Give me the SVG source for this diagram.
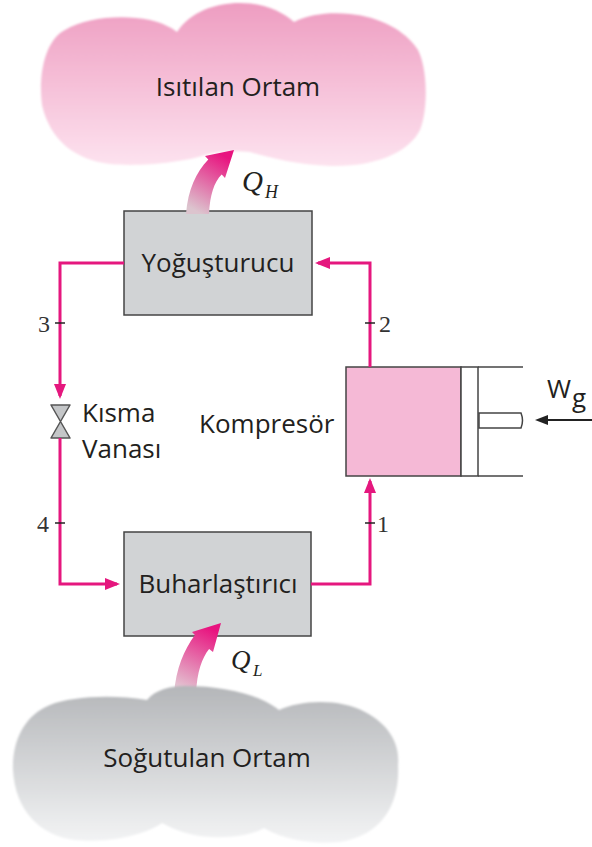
<svg xmlns="http://www.w3.org/2000/svg" width="592" height="847" viewBox="0 0 592 847">
  <style>
    .lbl { font-family: "Open Sans", "Noto Sans", "Liberation Sans", sans-serif; font-size: 26px; fill: #231f20; }
    .num { font-family: "Liberation Serif", "DejaVu Serif", serif; font-size: 24px; fill: #333; }
    .q { font-family: "Liberation Serif", "DejaVu Serif", serif; font-style: italic; fill: #231f20; }
    .box { fill: #d1d3d5; stroke: #444; stroke-width: 1.5; }
    .pipe { fill: none; stroke: #e5177e; stroke-width: 3; }
    .tick { stroke: #222; stroke-width: 1.5; }
    .mech { stroke: #444; stroke-width: 1.5; }
  </style>
  <defs>
    <linearGradient id="hotGrad" x1="0" y1="0" x2="0" y2="1">
      <stop offset="0" stop-color="#ee9dc1"/>
      <stop offset="1" stop-color="#fde3ef"/>
    </linearGradient>
    <linearGradient id="coldGrad" x1="0" y1="0" x2="0" y2="1">
      <stop offset="0" stop-color="#b4b6b9"/>
      <stop offset="1" stop-color="#f3f4f5"/>
    </linearGradient>
    <linearGradient id="qhGrad" gradientUnits="userSpaceOnUse" x1="198" y1="212" x2="228" y2="158">
      <stop offset="0" stop-color="#dcc4ce"/>
      <stop offset="1" stop-color="#e8137f"/>
    </linearGradient>
    <linearGradient id="qlGrad" gradientUnits="userSpaceOnUse" x1="185" y1="690" x2="214" y2="630">
      <stop offset="0" stop-color="#e3c3d1"/>
      <stop offset="1" stop-color="#e8137f"/>
    </linearGradient>
    <filter id="soft" x="-5%" y="-5%" width="110%" height="110%">
      <feGaussianBlur stdDeviation="1.2"/>
    </filter>
    <marker id="pinkHead" markerUnits="userSpaceOnUse" markerWidth="16" markerHeight="12" refX="12" refY="6" orient="auto">
      <path d="M0,0 L15,6 L0,12 Z" fill="#e5177e"/>
    </marker>
    <marker id="blackHead" markerUnits="userSpaceOnUse" markerWidth="14" markerHeight="10" refX="10" refY="5" orient="auto">
      <path d="M0,0 L13,5 L0,10 Z" fill="#222"/>
    </marker>
  </defs>

  <!-- heated space -->
  <g id="hot-space">
    <path filter="url(#soft)" fill="url(#hotGrad)" d="M42,105 C38,75 45,40 65,30 C85,18 120,14 150,20 C163,23 172,28 177,32 C190,12 215,3 240,3 C265,3 283,12 294,22 C310,14 330,12 350,14 C380,17 405,30 418,50 C428,70 428,110 420,130 C410,150 380,167 330,166 C300,165 270,158 250,152 C235,150 215,152 205,155 C185,162 140,167 110,164 C75,160 50,140 42,105 Z"/>
    <text class="lbl" x="238" y="96" text-anchor="middle">Isıtılan Ortam</text>
  </g>

  <!-- condenser -->
  <g id="condenser">
    <rect class="box" x="124" y="211" width="188" height="104"/>
    <text class="lbl" x="218" y="272" text-anchor="middle">Yoğuşturucu</text>
  </g>

  <!-- heat rejected -->
  <g id="heat-out">
    <path fill="url(#qhGrad)" d="M186,214 C188,190 196,172 208.3,159.5 L205,156 L234,150 L225,178 L221.7,174.5 C214,182 210,195 209,214 Z"/>
    <text class="q" x="242" y="191" font-size="29">Q</text>
    <text class="q" x="265" y="198" font-size="18">H</text>
  </g>

  <!-- expansion valve -->
  <g id="valve">
    <path d="M51,405 L70,405 L60.5,421.5 Z M60.5,421.5 L70,438 L51,438 Z" fill="#c4c6c8" stroke="#555" stroke-width="1.5" stroke-linejoin="round"/>
    <text class="lbl" x="82" y="422">Kısma</text>
    <text class="lbl" x="82" y="458">Vanası</text>
  </g>

  <!-- compressor -->
  <g id="compressor">
    <rect x="346" y="367" width="115" height="109" fill="#f5b9d6" stroke="#444" stroke-width="1.5"/>
    <rect class="mech" x="461" y="367" width="17" height="109" fill="#fff"/>
    <line class="mech" x1="478" y1="367" x2="523" y2="367"/>
    <line class="mech" x1="478" y1="476" x2="523" y2="476"/>
    <path class="mech" d="M479,413 H521 Q524,420.5 521,428 H479 Z" fill="#fff"/>
    <text class="lbl" x="199" y="433">Kompresör</text>
  </g>

  <!-- work input -->
  <g id="work-in">
    <line x1="592" y1="420" x2="538" y2="420" stroke="#222" stroke-width="2" marker-end="url(#blackHead)"/>
    <text class="lbl" x="547" y="398" font-size="27">W</text>
    <text class="lbl" x="572" y="407" font-size="20">g</text>
  </g>

  <!-- evaporator -->
  <g id="evaporator">
    <rect class="box" x="124" y="532" width="187" height="104"/>
    <text class="lbl" x="218" y="593" text-anchor="middle">Buharlaştırıcı</text>
  </g>

  <!-- heat absorbed -->
  <g id="heat-in">
    <path fill="url(#qlGrad)" d="M174,694 C176,668 184,650 194.9,634.9 L192,632 L221,623 L213,652 L209.1,649.1 C202,658 197,672 196,694 Z"/>
    <text class="q" x="231" y="669" font-size="27">Q</text>
    <text class="q" x="253" y="676" font-size="17">L</text>
  </g>

  <!-- cooled space -->
  <g id="cold-space">
    <path filter="url(#soft)" fill="url(#coldGrad)" d="M13,770 C12,740 25,715 50,705 C70,697 110,694 147,700 C155,690 170,686 185,686 C225,686 260,695 279,710 C300,700 340,698 365,712 C390,725 400,745 398,765 C400,800 385,835 340,842 C310,845 280,838 264,828 C250,836 230,838 211,837 C190,836 175,830 162,823 C140,838 100,843 75,840 C40,836 15,810 13,770 Z"/>
    <text class="lbl" x="207" y="767" text-anchor="middle">Soğutulan Ortam</text>
  </g>

  <!-- refrigerant loop -->
  <g id="connectors">
    <path class="pipe" d="M124,263 H60 V396" marker-end="url(#pinkHead)"/>
    <path class="pipe" d="M60,438 V584 H117" marker-end="url(#pinkHead)"/>
    <path class="pipe" d="M311,584 H370 V481" marker-end="url(#pinkHead)"/>
    <path class="pipe" d="M370,367 V263 H318" marker-end="url(#pinkHead)"/>
    <line class="tick" x1="55" y1="323" x2="65" y2="323"/>
    <line class="tick" x1="365" y1="323" x2="375" y2="323"/>
    <line class="tick" x1="55" y1="523" x2="65" y2="523"/>
    <line class="tick" x1="365" y1="523" x2="375" y2="523"/>
    <text class="num" x="38" y="332">3</text>
    <text class="num" x="379" y="332">2</text>
    <text class="num" x="37" y="532">4</text>
    <text class="num" x="377" y="532">1</text>
  </g>
</svg>
